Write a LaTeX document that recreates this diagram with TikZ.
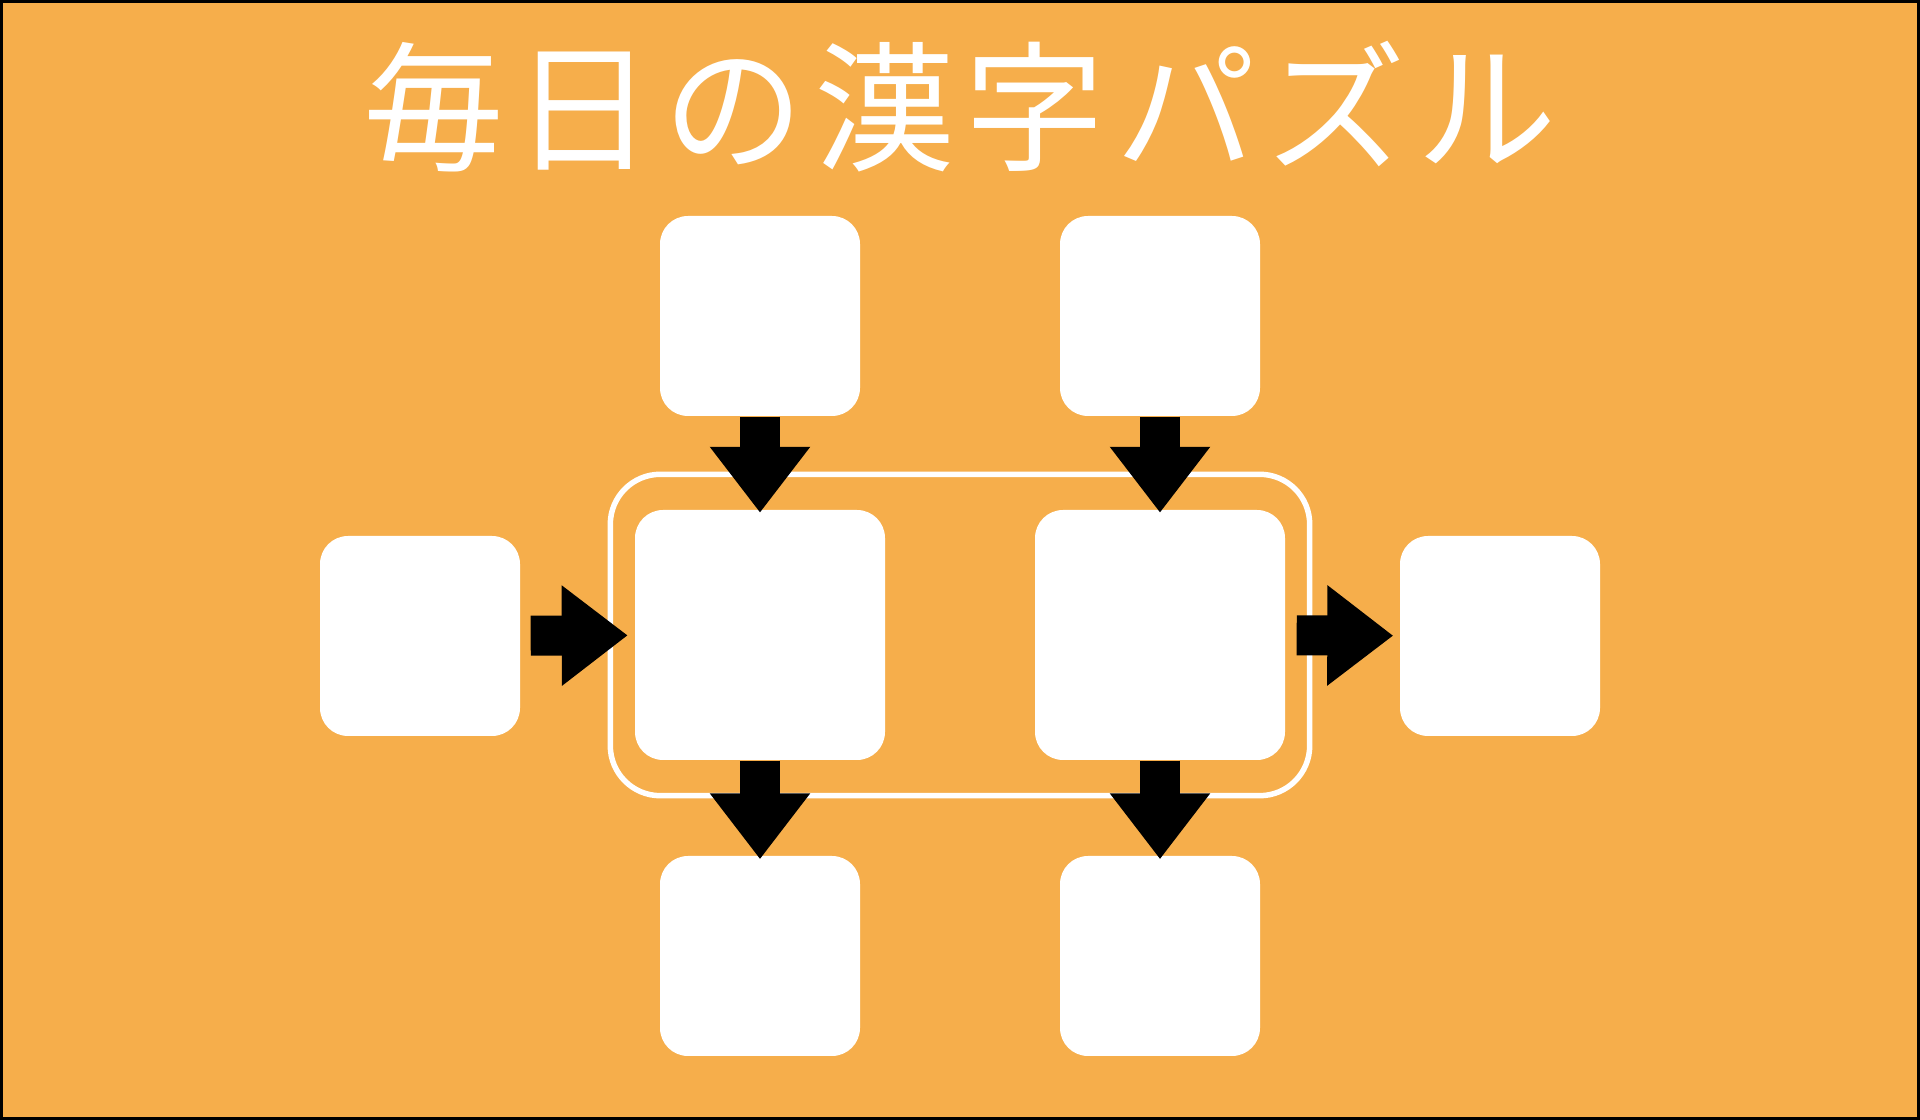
\documentclass[tikz,border=0pt]{standalone}
\usepackage{fontspec}
\newfontfamily\jpfont[LetterSpace=7]{Noto Sans CJK JP}
\usetikzlibrary{arrows.meta,fit}
\definecolor{puzzleorange}{RGB}{246,174,75}

\begin{document}
\begin{tikzpicture}[x=0.1mm,y=-0.1mm,
		box/.style={fill=white,rounded corners=2.8mm,minimum width=20mm,minimum height=20mm,inner sep=0pt},
		bigbox/.style={box,minimum width=25mm,minimum height=25mm},
		blockarrow/.style={line width=4mm,-{Triangle[width=9.6mm,length=6.6mm]}},
		groupframe/.style={draw=white,line width=0.55mm,rounded corners=5mm,inner xsep=2.4mm,inner ysep=3.5mm}]
	\useasboundingbox (0,0) rectangle (1920,1120);
	\fill[puzzleorange] (0,0) rectangle (1920,1120);
	\draw[line width=0.3mm] (1.5,1.5) rectangle (1918.5,1118.5);
	% title
	\node (title) at (960,107)[text=white,font=\jpfont\fontsize{40pt}{40pt}\selectfont]{毎日の漢字パズル};
	% the two kanji in the middle
	\node (cl) at (760,635)[bigbox]{};
	\node (cr) at (1160,635)[bigbox]{};
	\node (grp) [groupframe,fit=(cl)(cr)]{};
	% outer boxes
	\node (tl) at (760,316)[box]{};
	\node (tr) at (1160,316)[box]{};
	\node (ml) at (420,636)[box]{};
	\node (mr) at (1500,636)[box]{};
	\node (bl) at (760,956)[box]{};
	\node (br) at (1160,956)[box]{};
	% arrows
	\draw[blockarrow,shorten >=-0.35mm] (tl) -- (cl);
	\draw[blockarrow,shorten >=-0.35mm] (tr) -- (cr);
	\draw[blockarrow,shorten <=1mm,shorten >=0.65mm] (ml) -- (cl);
	\draw[blockarrow,shorten <=1.1mm,shorten >=0.6mm] (cr) -- (mr);
	\draw[blockarrow,shorten >=-0.4mm] (cl) -- (bl);
	\draw[blockarrow,shorten >=-0.4mm] (cr) -- (br);
\end{tikzpicture}
\end{document}
